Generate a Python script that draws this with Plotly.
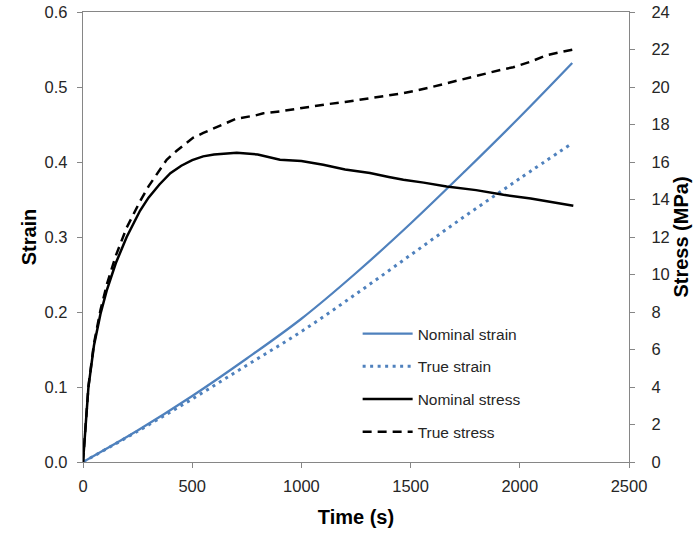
import plotly.graph_objects as go

# Strain series (left axis)
strain_t = [0, 250, 500, 750, 1000, 1250, 1500, 1750, 2000, 2240]
nominal_strain = [0, 0.042, 0.088, 0.138, 0.191, 0.252, 0.318, 0.388, 0.460, 0.532]
true_strain = [0, 0.041, 0.084, 0.129, 0.174, 0.224, 0.276, 0.328, 0.378, 0.425]

# Nominal stress (right axis, MPa)
nstress_t = [0, 10, 25, 50, 80, 110, 150, 200, 261, 300, 350, 400, 450, 500, 550, 600,
             650, 704, 800, 902, 1000, 1100, 1200, 1314, 1400, 1467, 1560, 1665, 1800,
             1925, 2050, 2169, 2245]
nominal_stress = [0, 1.8, 4.0, 6.2, 7.9, 9.2, 10.6, 12.0, 13.4, 14.1, 14.8, 15.4, 15.8,
                  16.1, 16.3, 16.4, 16.45, 16.5, 16.4, 16.12, 16.05, 15.85, 15.6, 15.41,
                  15.2, 15.05, 14.9, 14.69, 14.5, 14.25, 14.05, 13.81, 13.67]

# True stress (right axis, MPa)
tstress_t = [0, 10, 25, 50, 80, 110, 150, 200, 261, 300, 353, 383, 429, 505, 551, 600,
             658, 700, 795, 826, 900, 963, 1050, 1116, 1200, 1314, 1400, 1467, 1580,
             1696, 1800, 1925, 1970, 2050, 2123, 2190, 2245]
true_stress = [0, 1.8, 4.05, 6.3, 8.1, 9.5, 11.0, 12.5, 13.9, 14.7, 15.58, 16.12, 16.6,
               17.3, 17.55, 17.8, 18.1, 18.3, 18.5, 18.6, 18.7, 18.82, 18.95, 19.08,
               19.2, 19.4, 19.55, 19.67, 19.95, 20.3, 20.6, 20.95, 21.05, 21.35, 21.7,
               21.85, 22.0]

x_ticks = [0, 500, 1000, 1500, 2000, 2500]
y1_ticks = [0, 0.1, 0.2, 0.3, 0.4, 0.5, 0.6]
y1_labels = ["0.0", "0.1", "0.2", "0.3", "0.4", "0.5", "0.6"]
y2_ticks = list(range(0, 25, 2))

BLUE = "#4F81BD"
AXIS = "#868686"
FONT = "Liberation Sans"

fig = go.Figure()
fig.add_trace(go.Scatter(x=strain_t, y=nominal_strain, name="Nominal strain", mode="lines",
                         legendgroup="a",
                         line=dict(color=BLUE, width=2.25, shape="spline")))
fig.add_trace(go.Scatter(x=strain_t, y=true_strain, name="True strain", mode="lines",
                         legendgroup="b",
                         line=dict(color=BLUE, width=3, dash="3px,4.5px", shape="spline")))
fig.add_trace(go.Scatter(x=nstress_t, y=nominal_stress, name="Nominal stress", mode="lines",
                         legendgroup="c",
                         yaxis="y2", line=dict(color="black", width=2.5)))
fig.add_trace(go.Scatter(x=tstress_t, y=true_stress, name="True stress", mode="lines",
                         legendgroup="d",
                         yaxis="y2", line=dict(color="black", width=2.5, dash="9px,6px")))

fig.update_layout(
    width=696, height=535,
    margin=dict(l=83, r=67, t=12, b=73),
    paper_bgcolor="white", plot_bgcolor="white",
    font=dict(family=FONT, size=16.5, color="#262626"),
    showlegend=True,
    legend=dict(x=0.503, y=0.322, xanchor="left", yanchor="top",
                bgcolor="rgba(0,0,0,0)", font=dict(size=15.5, color="#262626"),
                itemwidth=50, tracegroupgap=9.5),
    xaxis=dict(range=[0, 2500], tickvals=x_ticks, showgrid=False, zeroline=False,
               showline=True, linecolor=AXIS, linewidth=1.3, mirror=True,
               ticks="outside", ticklen=5, tickcolor=AXIS, automargin=False,
               ticklabelstandoff=4,
               title=dict(text="<b>Time (s)</b>", font=dict(size=20, color="black"), standoff=16)),
    yaxis=dict(range=[0, 0.6], tickvals=y1_ticks, ticktext=y1_labels, showgrid=False,
               zeroline=False, showline=True, linecolor=AXIS, linewidth=1.3, automargin=False,
               ticks="outside", ticklen=5, tickcolor=AXIS, ticklabelstandoff=6,
               title=dict(text="<b>Strain</b>", font=dict(size=20, color="black"), standoff=2)),
    yaxis2=dict(range=[0, 24], tickvals=y2_ticks, overlaying="y", side="right",
                showgrid=False, zeroline=False, showline=True, linecolor=AXIS, linewidth=1.3,
                ticks="outside", ticklen=5, tickcolor=AXIS, ticklabelstandoff=13,
                automargin=False,
                title=dict(text="<b>Stress (MPa)</b>", font=dict(size=20, color="black"), standoff=5)),
)

fig.write_html("out.html")
